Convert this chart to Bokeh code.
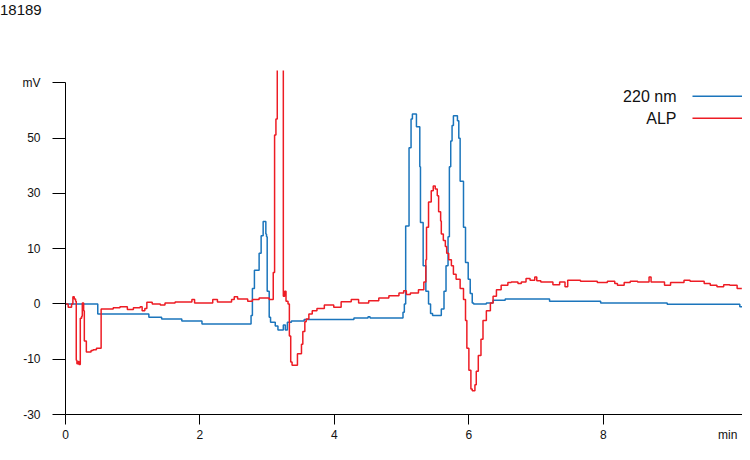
import numpy as np
from bokeh.plotting import figure
from bokeh.models import FixedTicker, Label, Range1d, LinearAxis, Div
from bokeh.layouts import column
from bokeh.embed import file_html
from bokeh.resources import INLINE

# ---------------- data ----------------
title_text = "18189"
x_ticks = [0, 2, 4, 6, 8]
x_unit_label = "min"
x_unit_pos = 9.85
y_tick_mv = [-30, -10, 0, 10, 30, 50, 70]
y_tick_labels = ["-30", "-10", "0", "10", "30", "50", "mV"]
series_names = ["220 nm", "ALP"]

# 220 nm trace (time in min, signal in mV; step samples)
blue_t = [0.00, 0.48, 1.24, 1.43, 1.73, 2.03, 2.76, 2.78, 2.81, 2.88, 2.91, 2.94, 2.98, 2.99,
          3.00, 3.03, 3.05, 3.12, 3.16, 3.24, 3.27, 3.30, 3.36, 3.55, 4.29, 4.50, 4.53, 5.02,
          5.04, 5.06, 5.11, 5.14, 5.16, 5.22, 5.27, 5.28, 5.32, 5.36, 5.40, 5.43, 5.46, 5.59,
          5.63, 5.66, 5.69, 5.71, 5.73, 5.75, 5.77, 5.83, 5.85, 5.87, 5.92, 5.95, 5.99, 6.02,
          6.05, 6.07, 6.26, 6.36, 6.54, 7.20, 7.96, 8.95, 10.03, 10.07]
blue_mv = [0.0, -1.8, -2.4, -2.7, -3.1, -3.6, -2.1, 2.8, 6.1, 9.2, 14.7, 19.9, 15.3, 14.3,
           2.3, -2.4, -3.3, -4.0, -4.7, -3.8, -4.7, -3.3, -3.1, -2.8, -2.55, -2.3, -2.55, -1.5,
           0.0, 18.2, 46.6, 57.0, 58.8, 54.2, 39.7, 19.5, 6.9, 2.3, 0.0, -1.7, -2.1, -0.9,
           2.3, 6.9, 14.3, 39.7, 49.0, 54.6, 58.1, 56.3, 50.0, 34.4, 17.8, 7.5, 4.5, 1.9,
           0.2, 0.0, 0.2, 0.7, 0.9, 0.5, 0.2, -0.05, -0.5, -0.5]

# ALP trace (time in min, signal in mV; step samples)
red_t = [0.00, 0.04, 0.09, 0.11, 0.13, 0.15, 0.16, 0.17, 0.19, 0.20, 0.22, 0.24, 0.25, 0.27,
         0.28, 0.31, 0.38, 0.41, 0.46, 0.53, 0.71, 0.81, 0.92, 1.01, 1.11, 1.14, 1.18, 1.21,
         1.29, 1.41, 1.48, 1.63, 1.88, 1.92, 2.19, 2.26, 2.47, 2.51, 2.56, 2.71, 2.78, 2.88,
         3.03, 3.09, 3.11, 3.13, 3.15, 3.24, 3.26, 3.28, 3.31, 3.33, 3.35, 3.37, 3.45, 3.51,
         3.53, 3.56, 3.58, 3.62, 3.67, 3.74, 3.85, 3.99, 4.10, 4.25, 4.36, 4.51, 4.66, 4.81,
         4.96, 5.03, 5.07, 5.13, 5.25, 5.33, 5.36, 5.37, 5.40, 5.44, 5.47, 5.50, 5.53, 5.55,
         5.58, 5.59, 5.62, 5.65, 5.67, 5.70, 5.74, 5.77, 5.81, 5.87, 5.92, 5.95, 5.97, 6.00,
         6.03, 6.05, 6.09, 6.11, 6.14, 6.18, 6.21, 6.26, 6.32, 6.36, 6.41, 6.48, 6.58, 6.63,
         6.73, 6.78, 6.85, 6.91, 6.98, 7.01, 7.07, 7.25, 7.35, 7.43, 7.47, 7.66, 7.91, 8.06,
         8.17, 8.21, 8.31, 8.40, 8.51, 8.68, 8.71, 8.91, 9.00, 9.20, 9.29, 9.50, 9.59, 9.69,
         9.79, 9.88, 9.99, 10.06]
red_mv = [0.0, -0.6, 0.0, 1.3, 0.9, 0.5, -10.4, -11.6, -10.8, -11.9, -2.6, -2.2, 0.2, -1.2,
          -6.7, -8.7, -8.4, -8.3, -8.0, -0.9, -0.7, -0.5, -1.0, -0.7, -0.5, -1.2, -0.8, 0.3,
          0.0, -0.2, 0.2, 0.35, 0.8, 0.2, 0.8, 0.35, 0.8, 1.3, 0.9, 0.5, 0.8, 1.1,
          0.8, 5.7, 51.2, 57.0, 100.0, 1.4, 2.3, 0.5, 0.0, -5.8, -11.0, -12.2, -9.0, -7.3,
          -5.0, -3.2, -2.7, -1.8, -1.2, -0.8, -0.2, -0.6, 0.4, 0.8, 0.2, 0.6, 1.1, 1.5,
          2.0, 2.4, 1.7, 2.0, 2.6, 4.0, 8.0, 17.8, 26.9, 31.0, 32.7, 31.6, 29.2, 23.4,
          20.0, 15.3, 13.0, 10.8, 9.2, 8.0, 6.9, 5.4, 4.5, 2.8, 0.8, -3.0, -8.0, -14.0,
          -20.8, -21.4, -19.2, -14.3, -9.3, -6.4, -3.0, -1.2, 0.2, 1.4, 2.6, 3.4, 3.9, 4.0,
          3.7, 4.0, 4.6, 4.3, 4.9, 4.2, 4.0, 3.5, 4.0, 3.1, 4.3, 4.1, 3.9, 4.1,
          3.7, 3.4, 3.9, 4.1, 4.0, 4.9, 4.0, 3.4, 3.9, 4.3, 4.1, 3.7, 3.4, 3.1,
          3.5, 3.4, 2.8, 2.8]

BLUE = "#1b75bc"
RED = "#ed1c24"
FONT = "Liberation Sans"
TXT = "#111111"


def to_axis(v):
    """Piecewise mV scale of the chromatogram axis: 10 mV per step up to +-10, 20 mV per step beyond."""
    v = np.asarray(v, dtype=float)
    a = np.abs(v)
    return np.where(a <= 10, v / 10.0, np.sign(v) * (1.0 + (a - 10.0) / 20.0))


y_tick_pos = [float(t) for t in to_axis(y_tick_mv)]

# sample title above the chart, at the top-left of the page
head = Div(text=title_text, width=742, height=20, margin=(0, 0, 0, 0),
           styles={"font-family": FONT, "font-size": "15px", "line-height": "20px",
                   "color": TXT, "padding": "0px", "margin": "0px"})

p = figure(width=742, height=424, output_backend="svg", toolbar_location=None,
           x_range=Range1d(0, 10.07), y_range=Range1d(-2, 4.226),
           min_border_left=65, min_border_right=0, min_border_top=50, min_border_bottom=27,
           margin=(0, 0, 0, 0))
p.background_fill_color = "white"
p.border_fill_color = "white"
p.outline_line_color = None
p.grid.visible = False

p.step(blue_t, to_axis(blue_mv), mode="after", line_color=BLUE, line_width=1.5)
p.step(red_t, to_axis(red_mv), mode="after", line_color=RED, line_width=1.5)

# axes
for ax in (p.xaxis[0], p.yaxis[0]):
    ax.axis_line_color = "black"
    ax.axis_line_width = 1
    ax.major_tick_line_color = "black"
    ax.major_tick_in = 0
    ax.minor_tick_line_color = None
    ax.major_label_text_font = FONT
    ax.major_label_text_font_size = "12px"
    ax.major_label_text_color = TXT

# main x axis: line and tick marks only
xa = p.xaxis[0]
xa.ticker = FixedTicker(ticks=x_ticks)
xa.major_tick_out = 10
xa.major_label_standoff = 0
xa.major_label_overrides = {t: "" for t in x_ticks}
xa.major_label_text_font_size = "0px"

# second x axis right under it: tick labels plus the unit
xl = LinearAxis(ticker=FixedTicker(ticks=x_ticks + [x_unit_pos]),
                major_label_overrides={x_unit_pos: x_unit_label},
                axis_line_color=None, major_tick_line_color=None, minor_tick_line_color=None,
                major_tick_out=0, major_tick_in=0, major_label_standoff=3,
                major_label_text_font=FONT, major_label_text_font_size="12px",
                major_label_text_color=TXT)
p.add_layout(xl, "below")

ya = p.yaxis[0]
ya.ticker = FixedTicker(ticks=y_tick_pos)
ya.major_label_overrides = {pos: lab for pos, lab in zip(y_tick_pos, y_tick_labels)}
ya.major_tick_out = 13
ya.major_label_standoff = 12
ya.bounds = (y_tick_pos[0], y_tick_pos[-1])

# legend: name on the left, line sample on the right
legend_y = [3.758, 3.362]
for name, col, ly in zip(series_names, [BLUE, RED], legend_y):
    p.add_layout(Label(x=9.088, y=ly, text=name, text_align="right", text_baseline="middle",
                       text_font=FONT, text_font_size="16px", text_color=TXT))
    p.line([9.326, 10.07], [ly, ly], line_color=col, line_width=1.5)

layout = column(head, p, spacing=0, margin=(0, 0, 0, 0))

open("out.html", "w").write(file_html(layout, INLINE))
